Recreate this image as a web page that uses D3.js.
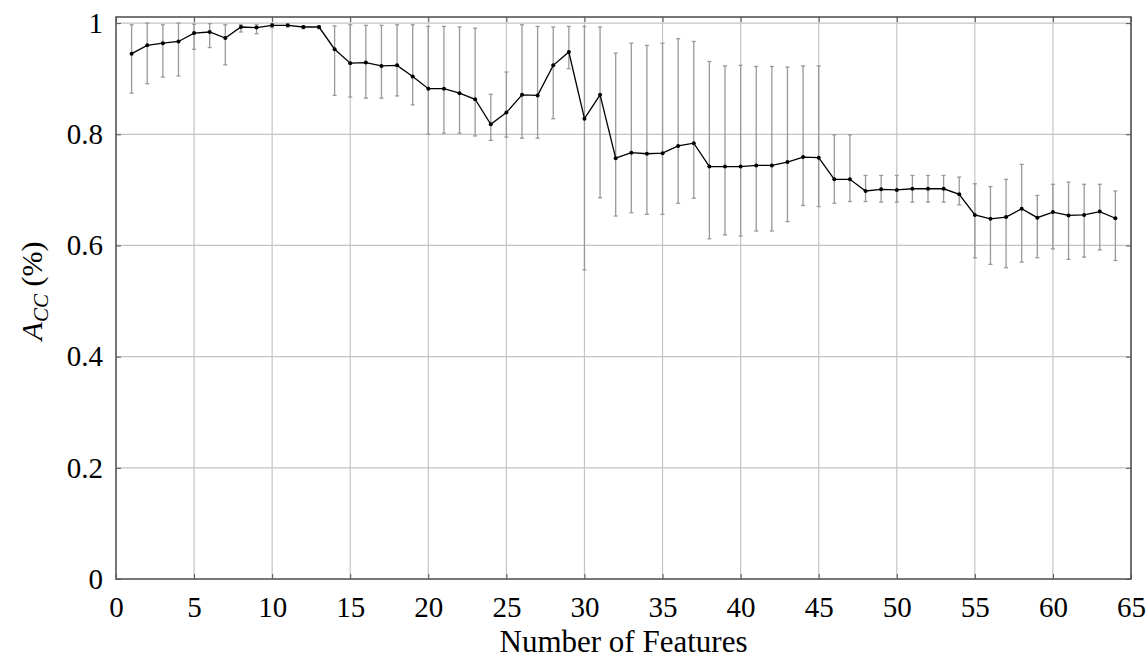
<!DOCTYPE html>
<html>
<head>
<meta charset="utf-8">
<script src="https://cdn.jsdelivr.net/npm/d3@7"></script>
<style>
  body { margin: 0; background: #fff; }
  svg { display: block; }
  text { font-family: "Liberation Serif", "DejaVu Serif", serif; fill: #000; }
</style>
</head>
<body>
<div class="chart"></div>
<script>
var width = 1148;
var height = 659;

// number of features
var features = d3.range(1, 65);

// mean accuracy
var meanAcc = [0.945, 0.960, 0.964, 0.967, 0.982, 0.984, 0.973, 0.993, 0.992, 0.996,
  0.996, 0.993, 0.993, 0.953, 0.928, 0.929, 0.923, 0.924, 0.904, 0.882,
  0.882, 0.874, 0.863, 0.818, 0.839, 0.871, 0.870, 0.924, 0.948, 0.828,
  0.871, 0.757, 0.767, 0.765, 0.766, 0.779, 0.784, 0.742, 0.742, 0.742,
  0.744, 0.744, 0.750, 0.759, 0.758, 0.719, 0.719, 0.698, 0.701, 0.700,
  0.702, 0.702, 0.702, 0.692, 0.655, 0.648, 0.651, 0.666, 0.650, 0.660,
  0.654, 0.655, 0.661, 0.649];

// error bar top
var upperAcc = [0.997, 1.000, 0.997, 1.000, 0.998, 0.999, 0.997, 0.997, 0.997, 0.999,
  0.998, 0.995, 0.995, 0.995, 0.997, 0.996, 0.996, 0.997, 0.997, 0.994,
  0.994, 0.993, 0.991, 0.872, 0.912, 0.997, 0.994, 0.993, 0.994, 0.994,
  0.993, 0.946, 0.964, 0.960, 0.964, 0.972, 0.967, 0.931, 0.923, 0.924,
  0.922, 0.922, 0.921, 0.923, 0.923, 0.799, 0.799, 0.726, 0.726, 0.726,
  0.726, 0.726, 0.726, 0.723, 0.711, 0.706, 0.719, 0.746, 0.690, 0.710,
  0.714, 0.710, 0.710, 0.698];

// error bar bottom
var lowerAcc = [0.874, 0.891, 0.903, 0.905, 0.953, 0.956, 0.925, 0.984, 0.981, 0.992,
  0.993, 0.990, 0.990, 0.870, 0.867, 0.865, 0.865, 0.869, 0.853, 0.800,
  0.802, 0.802, 0.797, 0.789, 0.795, 0.793, 0.793, 0.828, 0.918, 0.556,
  0.686, 0.653, 0.659, 0.656, 0.656, 0.676, 0.685, 0.612, 0.619, 0.617,
  0.626, 0.626, 0.643, 0.672, 0.670, 0.676, 0.679, 0.679, 0.678, 0.678,
  0.678, 0.678, 0.678, 0.673, 0.578, 0.566, 0.560, 0.570, 0.578, 0.594,
  0.575, 0.579, 0.592, 0.573];

var xTicks = d3.range(0, 66, 5);
var yTicks = [0, 0.2, 0.4, 0.6, 0.8, 1];

var data = features.map(function(f, i){
  return {x: f, y: meanAcc[i], hi: upperAcc[i], lo: lowerAcc[i]};
});

var pLeft = 116, pRight = 1131, pTop = 17, pBottom = 579;
var x = d3.scaleLinear().domain([0, 65]).range([pLeft, pRight]);
var y = d3.scaleLinear().domain([0, 1.011]).range([pBottom, pTop]);

var svg = d3.select('.chart').append('svg').attr('width', width).attr('height', height);

// grid
svg.append('g').selectAll('line').data(xTicks.slice(1)).enter().append('line')
  .attr('x1', function(d){ return x(d); }).attr('x2', function(d){ return x(d); })
  .attr('y1', pTop).attr('y2', pBottom)
  .attr('stroke', '#c4c4c4').attr('stroke-width', 1.2);
svg.append('g').selectAll('line').data(yTicks.slice(1)).enter().append('line')
  .attr('x1', pLeft).attr('x2', pRight)
  .attr('y1', function(d){ return y(d); }).attr('y2', function(d){ return y(d); })
  .attr('stroke', '#c4c4c4').attr('stroke-width', 1.2);

// axes, ticks inside like pgfplots
var xAxis = svg.append('g').attr('transform', 'translate(0,' + pBottom + ')')
  .call(d3.axisBottom(x).tickValues(xTicks).tickSize(-5).tickPadding(17).tickFormat(d3.format('d')));
var xTop = svg.append('g').attr('transform', 'translate(0,' + pTop + ')')
  .call(d3.axisTop(x).tickValues(xTicks).tickSize(-5).tickFormat(''));
var yAxis = svg.append('g').attr('transform', 'translate(' + pLeft + ',0)')
  .call(d3.axisLeft(y).tickValues(yTicks).tickSize(-5).tickPadding(13).tickFormat(function(d){ return d === 0 || d === 1 ? d : d3.format('.1f')(d); }));
var yRight = svg.append('g').attr('transform', 'translate(' + pRight + ',0)')
  .call(d3.axisRight(y).tickValues(yTicks).tickSize(-5).tickFormat(''));

[xAxis, xTop, yAxis, yRight].forEach(function(g){
  g.select('.domain').remove();
  g.selectAll('.tick line').attr('stroke', '#555').attr('stroke-width', 1);
  g.selectAll('text').style('font-size', '29px').attr('font-family', '"Liberation Serif", serif').attr('fill', '#000');
});

// frame
svg.append('rect').attr('x', pLeft).attr('y', pTop)
  .attr('width', pRight - pLeft).attr('height', pBottom - pTop)
  .attr('fill', 'none').attr('stroke', '#555').attr('stroke-width', 1.6);

// error bars
var eb = svg.append('g').attr('stroke', '#999').attr('stroke-width', 1.3);
eb.selectAll('.bar').data(data).enter().append('line')
  .attr('x1', function(d){ return x(d.x); }).attr('x2', function(d){ return x(d.x); })
  .attr('y1', function(d){ return y(d.hi); }).attr('y2', function(d){ return y(d.lo); });
eb.selectAll('.capHi').data(data).enter().append('line')
  .attr('x1', function(d){ return x(d.x) - 2; }).attr('x2', function(d){ return x(d.x) + 2; })
  .attr('y1', function(d){ return y(d.hi); }).attr('y2', function(d){ return y(d.hi); });
eb.selectAll('.capLo').data(data).enter().append('line')
  .attr('x1', function(d){ return x(d.x) - 2; }).attr('x2', function(d){ return x(d.x) + 2; })
  .attr('y1', function(d){ return y(d.lo); }).attr('y2', function(d){ return y(d.lo); });

// mean line + markers
var line = d3.line().x(function(d){ return x(d.x); }).y(function(d){ return y(d.y); });
svg.append('path').datum(data).attr('d', line)
  .attr('fill', 'none').attr('stroke', '#000').attr('stroke-width', 1.3);
svg.append('g').selectAll('circle').data(data).enter().append('circle')
  .attr('cx', function(d){ return x(d.x); }).attr('cy', function(d){ return y(d.y); })
  .attr('r', 2).attr('fill', '#000');

// labels
svg.append('text').attr('x', (pLeft + pRight) / 2).attr('y', 652)
  .attr('text-anchor', 'middle').style('font-size', '31px')
  .text('Number of Features');

var yl = svg.append('text').attr('transform', 'translate(42,291) rotate(-90)')
  .attr('text-anchor', 'middle').style('font-size', '30px');
yl.append('tspan').attr('font-style', 'italic').text('A');
yl.append('tspan').attr('font-style', 'italic').attr('dy', 6).style('font-size', '21px').text('CC');
yl.append('tspan').attr('dy', -6).text(' (%)');
</script>
</body>
</html>
